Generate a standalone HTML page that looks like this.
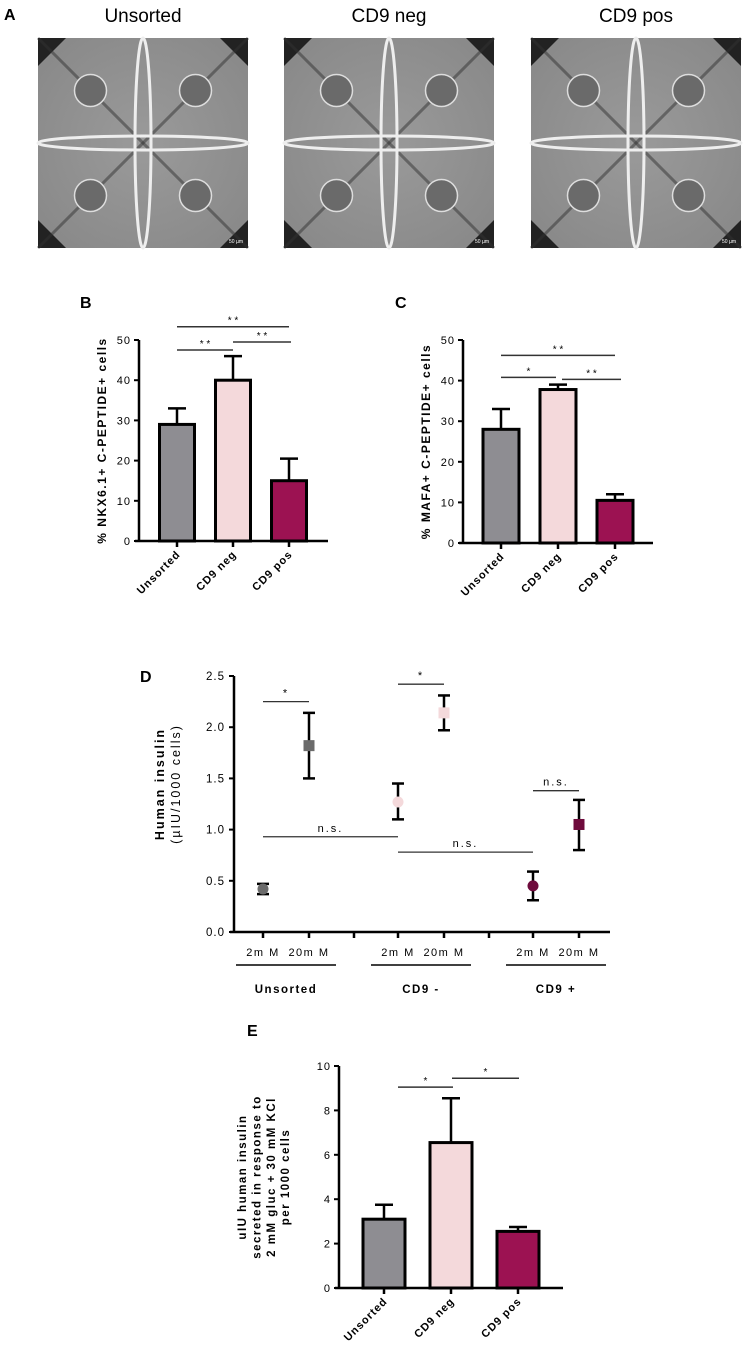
<!DOCTYPE html>
<html><head><meta charset="utf-8"><style>
body{margin:0;background:#fff}
svg{display:block;font-family:"Liberation Sans",sans-serif}
</style></head><body>
<svg id="fig" width="744" height="1362" viewBox="0 0 744 1362" xmlns="http://www.w3.org/2000/svg">
<defs>
<radialGradient id="well" cx="50%" cy="50%" r="60%"><stop offset="0" stop-color="#9a9a9a"/><stop offset="1" stop-color="#8a8a8a"/></radialGradient>
</defs>
<g id="panelA">
<text x="4" y="20" font-size="16" font-weight="bold">A</text>
</g>
<g id="charts"></g>
</svg>
<script>
const NS="http://www.w3.org/2000/svg";
const svg=document.getElementById('fig');
function el(tag,attrs,parent,text){const e=document.createElementNS(NS,tag);for(const k in attrs)e.setAttribute(k,attrs[k]);if(text!==undefined)e.textContent=text;(parent||svg).appendChild(e);return e;}

// ---- Panel A micrographs ----
const imgTitles=["Unsorted","CD9 neg","CD9 pos"];
const imgX=[38,284,531];
const pA=document.getElementById('panelA');
imgTitles.forEach((t,i)=>{
  const x=imgX[i],y=38,s=210,c=s/2;
  const g=el('g',{},pA);
  
  
  el('rect',{x:x,y:y,width:s,height:s,fill:'url(#well)'},g);
  // dark corner triangles
  [[0,0],[s,0],[0,s],[s,s]].forEach(([a,b])=>{
    el('polygon',{points:`${x+a},${y+b} ${x+a+(a?-28:28)},${y+b} ${x+a},${y+b+(b?-28:28)}`,fill:'#222'},g);
  });
  // diagonal dark streaks
  el('line',{x1:x,y1:y,x2:x+s,y2:y+s,stroke:'#333','stroke-width':3,opacity:.5},g);
  el('line',{x1:x+s,y1:y,x2:x,y2:y+s,stroke:'#333','stroke-width':3,opacity:.5},g);
  // bright cross
  el('ellipse',{cx:x+c,cy:y+c,rx:8,ry:c,fill:'none',stroke:'#eee','stroke-width':3},g);
  el('ellipse',{cx:x+c,cy:y+c,rx:c,ry:7,fill:'none',stroke:'#eee','stroke-width':3},g);
  // spheroids
  [[c/2,c/2],[c*1.5,c/2],[c/2,c*1.5],[c*1.5,c*1.5]].forEach(([a,b])=>{
    el('circle',{cx:x+a,cy:y+b,r:16,fill:'#6a6a6a',stroke:'#ddd','stroke-width':1.5},g);
  });
  el('text',{x:x+c,y:22,'font-size':19,'text-anchor':'middle'},pA,t);
  el('text',{x:x+s-12,y:y+s-5,'font-size':5,fill:'#fff','text-anchor':'middle'},g,'50 µm');
});

// ---- Bar chart data ----
const barCats=["Unsorted","CD9 neg","CD9 pos"];
const barColors=["#8e8d92","#f4d9db","#9c1252"];
const bValues=[29,40,15];
const bErr=[33,46,20.5];
const cValues=[28,37.8,10.5];
const cErr=[33,39,12];
const eValues=[3.1,6.55,2.55];
const eErr=[3.75,8.55,2.75];
const bTicks=[0,10,20,30,40,50];
const cTicks=[0,10,20,30,40,50];
const eTicks=[0,2,4,6,8,10];

function barChart(o){
  const g=el('g',{});
  
  
  const ys=v=>o.y0-(v-o.min)/(o.max-o.min)*(o.y0-o.yTop);
  const xs=i=>o.x0+o.first+i*o.step;
  el('text',{x:o.lx,y:o.ly,'font-size':16,'font-weight':'bold'},g,o.letter);
  el('line',{x1:o.x0,y1:o.y0,x2:o.x0,y2:o.yTop,stroke:'#000','stroke-width':2.5},g);
  el('line',{x1:o.x0-4,y1:o.y0,x2:o.xEnd,y2:o.y0,stroke:'#000','stroke-width':2.5},g);
  o.ticks.forEach(t=>{
    el('line',{x1:o.x0-5,y1:ys(t),x2:o.x0,y2:ys(t),stroke:'#000','stroke-width':2},g);
    const tl=el('text',{x:o.x0-8,y:ys(t)+4,'font-size':11,'text-anchor':'end','letter-spacing':'1'},g,t);
    
    
  });
  o.values.forEach((v,i)=>{
    const cx=xs(i);
    el('line',{x1:cx,y1:ys(v),x2:cx,y2:ys(o.err[i]),stroke:'#000','stroke-width':2.5},g);
    el('line',{x1:cx-9,y1:ys(o.err[i]),x2:cx+9,y2:ys(o.err[i]),stroke:'#000','stroke-width':2.5},g);
    const r=el('rect',{x:cx-o.bw/2,y:ys(v),width:o.bw,height:o.y0-ys(v),fill:barColors[i],stroke:'#000','stroke-width':3},g);
    
    
    el('line',{x1:cx,y1:o.y0,x2:cx,y2:o.y0+6,stroke:'#000','stroke-width':2.5},g);
    const xl=el('text',{'font-size':11,'font-weight':'bold','letter-spacing':'1','text-anchor':'end',transform:`translate(${cx+4},${o.y0+14}) rotate(-45)`},g,barCats[i]);
    
    
  });
  o.sig.forEach(s=>{
    const y=ys(s[2]);
    el('line',{x1:xs(s[0])-s[3],y1:y,x2:xs(s[1])+s[4],y2:y,stroke:'#333','stroke-width':1.5},g);
    el('text',{x:(xs(s[0])-s[3]+xs(s[1])+s[4])/2,y:y-3,'font-size':10,'text-anchor':'middle'},g,s[5]);
  });
  const tlines=o.title;
  tlines.forEach((t,k)=>{
    const yt=el('text',{'font-size':o.tfs,'font-weight':'bold','letter-spacing':'1.5','text-anchor':'middle',transform:`translate(${o.tx+k*o.tfs*1.25},${(o.y0+o.yTop)/2}) rotate(-90)`},g,t);
    
    
  });
}
barChart({name:'chart-b-nkx61',letter:'B',lx:80,ly:308,x0:139,y0:541,yTop:340,xEnd:328,min:0,max:50,first:38,step:56,bw:35,
  values:bValues,err:bErr,ticks:bTicks,title:['% NKX6.1+ C-PEPTIDE+ cells'],tx:106,tfs:12,
  sig:[[0,1,47.5,0,0,'* *'],[1,2,49.5,0,2,'* *'],[0,2,53.3,0,0,'* *']]});
barChart({name:'chart-c-mafa',letter:'C',lx:395,ly:308,x0:463,y0:543,yTop:340,xEnd:653,min:0,max:50,first:38,step:57,bw:36,
  values:cValues,err:cErr,ticks:cTicks,title:['% MAFA+ C-PEPTIDE+ cells'],tx:430,tfs:12,
  sig:[[0,1,40.8,0,-2,'*'],[1,2,40.3,-4,6,'* *'],[0,2,46.2,0,0,'* *']]});
barChart({name:'chart-e-kcl-insulin',letter:'E',lx:247,ly:1036,x0:339,y0:1288,yTop:1066,xEnd:563,min:0,max:10,first:45,step:67,bw:42,
  values:eValues,err:eErr,ticks:eTicks,title:['uIU human insulin','secreted in response to','2 mM gluc + 30 mM KCl','per 1000 cells'],tx:246,tfs:11.5,
  sig:[[0,1,9.05,-14,2,'*'],[1,2,9.45,-1,1,'*']]});

// ---- Panel D ----
const dGroups=["Unsorted","CD9 -","CD9 +"];
const dConds=["2mM","20mM"];
const dMeans=[0.42,1.82,1.27,2.14,0.45,1.05];
const dLow=[0.37,1.50,1.10,1.97,0.31,0.80];
const dHigh=[0.47,2.14,1.45,2.31,0.59,1.29];
const dShapes=["circle","square","circle","square","circle","square"];
const dColors=["#6b6b6b","#6b6b6b","#f4d9db","#f4d9db","#6e0b3c","#6e0b3c"];
const dTicks=[0,0.5,1.0,1.5,2.0,2.5];
(function(){
  const g=el('g',{});
  
  
  const x0=234,y0=932,yTop=676,xEnd=610,min=0,max=2.5;
  const ys=v=>y0-(v-min)/(max-min)*(y0-yTop);
  const xs=i=>263+Math.floor(i/2)*135+(i%2)*46;
  el('text',{x:140,y:682,'font-size':16,'font-weight':'bold'},g,'D');
  el('line',{x1:x0,y1:y0,x2:x0,y2:yTop,stroke:'#000','stroke-width':2.5},g);
  el('line',{x1:x0-4,y1:y0,x2:xEnd,y2:y0,stroke:'#000','stroke-width':2.5},g);
  dTicks.forEach(t=>{
    el('line',{x1:x0-5,y1:ys(t),x2:x0,y2:ys(t),stroke:'#000','stroke-width':2},g);
    const tl=el('text',{x:x0-9,y:ys(t)+4,'font-size':11.5,'text-anchor':'end','letter-spacing':'1'},g,t.toFixed(1));
    
    
  });
  [354,489].forEach(x=>el('line',{x1:x,y1:y0,x2:x,y2:y0+6,stroke:'#000','stroke-width':2.5},g));
  dMeans.forEach((m,i)=>{
    const cx=xs(i);
    el('line',{x1:cx,y1:y0,x2:cx,y2:y0+6,stroke:'#000','stroke-width':2.5},g);
    el('line',{x1:cx,y1:ys(dLow[i]),x2:cx,y2:ys(dHigh[i]),stroke:'#000','stroke-width':2.5},g);
    [dLow[i],dHigh[i]].forEach(v=>el('line',{x1:cx-6,y1:ys(v),x2:cx+6,y2:ys(v),stroke:'#000','stroke-width':2.5},g));
    let p;
    if(dShapes[i]==='circle') p=el('circle',{cx:cx,cy:ys(m),r:5.5,fill:dColors[i]},g);
    else p=el('rect',{x:cx-5.5,y:ys(m)-5.5,width:11,height:11,fill:dColors[i]},g);
    
    
    el('text',{x:cx,y:956,'font-size':11,'text-anchor':'middle','letter-spacing':'1.5'},g,dConds[i%2]==='2mM'?'2m M':'20m M');
  });
  dGroups.forEach((t,k)=>{
    const a=xs(2*k),b=xs(2*k+1);
    el('line',{x1:a-27,y1:965,x2:b+27,y2:965,stroke:'#000','stroke-width':1.5},g);
    el('text',{x:(a+b)/2,y:993,'font-size':11.5,'font-weight':'bold','text-anchor':'middle','letter-spacing':'1.5'},g,t);
  });
  const sig=[[0,1,2.25,'*'],[2,3,2.42,'*'],[4,5,1.38,'n.s.'],[0,2,0.93,'n.s.'],[2,4,0.78,'n.s.']];
  sig.forEach(s=>{
    const y=ys(s[2]);
    el('line',{x1:xs(s[0]),y1:y,x2:xs(s[1]),y2:y,stroke:'#333','stroke-width':1.3},g);
    el('text',{x:(xs(s[0])+xs(s[1]))/2,y:y-5,'font-size':s[3]==='*'?11:11,'text-anchor':'middle','letter-spacing':'2'},g,s[3]);
  });
  ['Human insulin','(µIU/1000 cells)'].forEach((t,k)=>{
    const yt=el('text',{'font-size':12.5,'font-weight':k?'normal':'bold','letter-spacing':'2','text-anchor':'middle',transform:`translate(${164+k*16},${(y0+yTop)/2-20}) rotate(-90)`},g,t);
    
    
  });
})();
</script>
</body></html>
